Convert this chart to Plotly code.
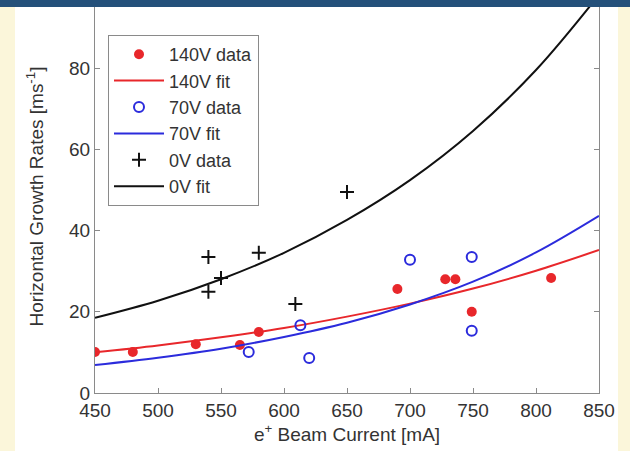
import plotly.graph_objects as go

# Measured growth rates (beam current in mA, growth rate in ms^-1)
i_140v = [450, 480, 530, 565, 580, 690, 728, 736, 749, 812]
g_140v = [10.1, 10.1, 12.0, 11.8, 15.0, 25.6, 28.0, 28.0, 20.0, 28.3]

i_70v = [572, 613, 620, 700, 749, 749]
g_70v = [10.1, 16.7, 8.6, 32.8, 33.5, 15.3]

i_0v = [540, 540, 550, 580, 609, 650]
g_0v = [33.5, 24.9, 28.3, 34.5, 21.9, 49.5]

# Exponential fit curves, sampled every 50 mA
i_fit = [450, 500, 550, 600, 650, 700, 750, 800, 850]
fit_140v = [10.0, 11.7, 13.7, 16.0, 18.8, 22.0, 25.7, 30.1, 35.2]
fit_70v = [6.9, 8.7, 10.9, 13.8, 17.3, 21.8, 27.4, 34.6, 43.6]
fit_0v = [18.5, 22.7, 28.0, 34.5, 42.6, 52.4, 64.5, 79.5, 98.0]

x_ticks = [450, 500, 550, 600, 650, 700, 750, 800, 850]
y_ticks = [0, 20, 40, 60, 80]

RED = "#e8272b"
BLUE = "#2b2bdc"
BLACK = "#111111"
TEXT = "#333333"
FONT = "Liberation Sans"

W, H = 630, 451
L, R, T, B = 95, 31, 0, 58
plot_w = W - L - R
plot_h = H - T - B

fig = go.Figure()

fig.add_trace(go.Scatter(x=i_140v, y=g_140v, mode="markers", name="140V data",
                         legendgroup="a",
                         marker=dict(symbol="circle", size=10, color=RED,
                                     line=dict(width=0))))
fig.add_trace(go.Scatter(x=i_fit, y=fit_140v, mode="lines", name="140V fit",
                         legendgroup="b", line_shape="spline",
                         line=dict(color=RED, width=2)))
fig.add_trace(go.Scatter(x=i_70v, y=g_70v, mode="markers", name="70V data",
                         legendgroup="c",
                         marker=dict(symbol="circle-open", size=10, color=BLUE,
                                     line=dict(width=2, color=BLUE))))
fig.add_trace(go.Scatter(x=i_fit, y=fit_70v, mode="lines", name="70V fit",
                         legendgroup="d", line_shape="spline",
                         line=dict(color=BLUE, width=2)))
fig.add_trace(go.Scatter(x=i_0v, y=g_0v, mode="markers", name="0V data",
                         legendgroup="e",
                         marker=dict(symbol="cross-thin-open", size=10, color=BLACK,
                                     line=dict(width=2, color=BLACK))))
fig.add_trace(go.Scatter(x=i_fit, y=fit_0v, mode="lines", name="0V fit",
                         legendgroup="f", line_shape="spline",
                         line=dict(color=BLACK, width=2)))

axis_common = dict(
    showgrid=False, zeroline=False, showline=True, linecolor="#8a8a8a",
    linewidth=1, mirror="ticks", ticks="inside", ticklen=5,
    tickcolor="#8a8a8a", tickfont=dict(family=FONT, size=19, color=TEXT),
)

fig.update_layout(
    width=W, height=H,
    margin=dict(l=L, r=R, t=T, b=B),
    paper_bgcolor="white", plot_bgcolor="white",
    font=dict(family=FONT, color=TEXT),
    xaxis=dict(range=[450, 850], tickvals=x_ticks,
               title=dict(text="e<sup>+</sup> Beam Current [mA]", standoff=4,
                          font=dict(size=19, color=TEXT)),
               **axis_common),
    yaxis=dict(range=[0, plot_h / 4.0625], tickvals=y_ticks,
               title=dict(text="Horizontal Growth Rates [ms<sup>-1</sup>]",
                          standoff=20, font=dict(size=19, color=TEXT)),
               **axis_common),
    legend=dict(x=(108 - L) / plot_w, y=1 - 35 / plot_h, xanchor="left",
                yanchor="top", bgcolor="white", bordercolor="#8a8a8a",
                borderwidth=1, tracegroupgap=0, itemwidth=50,
                font=dict(family=FONT, size=18, color=TEXT)),
    showlegend=True,
)

# Page frame: dark header band and cream side strips
fig.add_shape(type="rect", xref="paper", yref="paper",
              x0=-L / plot_w, x1=(W - L) / plot_w,
              y0=1 - 7 / plot_h, y1=1 + 5 / plot_h,
              fillcolor="#24507a", line=dict(width=0), layer="above")
fig.add_shape(type="rect", xref="paper", yref="paper",
              x0=-L / plot_w, x1=(15 - L) / plot_w,
              y0=-B / plot_h, y1=1 - 7 / plot_h,
              fillcolor="#fbf6da", line=dict(width=0), layer="below")
fig.add_shape(type="rect", xref="paper", yref="paper",
              x0=(618 - L) / plot_w, x1=(W - L) / plot_w,
              y0=-B / plot_h, y1=1 - 7 / plot_h,
              fillcolor="#fbf6da", line=dict(width=0), layer="below")

fig.write_html("out.html")
